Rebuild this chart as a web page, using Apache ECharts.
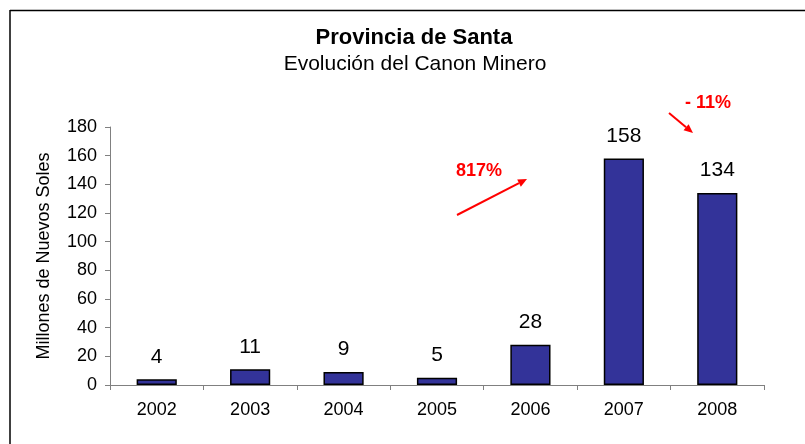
<!DOCTYPE html>
<html><head><meta charset="utf-8">
<script src="https://cdn.jsdelivr.net/npm/echarts@6/dist/echarts.min.js"></script>
<style>html,body{margin:0;padding:0;background:#fff}#c{width:805px;height:444px}</style>
</head><body><div id="c"></div>
<script>
const years = ['2002','2003','2004','2005','2006','2007','2008'];
const canon = [4, 11, 9, 5, 28, 158, 134];
const yTicks = [0, 20, 40, 60, 80, 100, 120, 140, 160, 180];
const titles = ['Provincia de Santa', 'Evolución del Canon Minero'];
const notes = ['817%', '- 11%'];

function arrow(x1, y1, x2, y2) {
  const a = Math.atan2(y2 - y1, x2 - x1), L = 9, W = 4;
  const bx = x2 - L * Math.cos(a), by = y2 - L * Math.sin(a);
  return [
    {type:'line', shape:{x1:x1, y1:y1, x2:bx, y2:by}, style:{stroke:'#ff0000', lineWidth:2}},
    {type:'polygon', shape:{points:[[x2,y2],[bx - W*Math.sin(a), by + W*Math.cos(a)],[bx + W*Math.sin(a), by - W*Math.cos(a)]]}, style:{fill:'#ff0000'}}
  ];
}

const FF = 'Liberation Sans, Arial';
const chart = echarts.init(document.getElementById('c'));
chart.setOption({
  animation: false,
  backgroundColor: '#fff',
  grid: {left: 110, right: 41, top: 127, bottom: 59},
  xAxis: {
    type: 'category', data: years,
    axisLine: {lineStyle:{color:'#808080', width:1}},
    axisTick: {show:true, length:5, lineStyle:{color:'#808080'}},
    axisLabel: {color:'#000', fontSize:18, fontFamily:FF, margin:16}
  },
  yAxis: {
    type: 'value', min: yTicks[0], max: yTicks[yTicks.length-1], interval: 20,
    name: 'Millones de Nuevos Soles', nameLocation: 'middle', nameGap: 57, nameRotate: 90,
    nameTextStyle: {color:'#000', fontSize:18, fontFamily:FF},
    axisLine: {show:true, lineStyle:{color:'#808080', width:1}},
    axisTick: {show:true, length:5, lineStyle:{color:'#808080'}},
    splitLine: {show:false},
    axisLabel: {color:'#000', fontSize:18, fontFamily:FF, margin:13}
  },
  series: [{
    type: 'bar', data: canon, barWidth: '43%',
    itemStyle: {color:'#333399', borderColor:'#000', borderWidth:1.5},
    label: {show:true, position:'top', distance:12, color:'#000', fontSize:21, fontFamily:FF}
  }],
  graphic: [
    {type:'line', shape:{x1:10, y1:10.5, x2:810, y2:10.5}, style:{stroke:'#000', lineWidth:1.5}},
    {type:'line', shape:{x1:10, y1:10, x2:10, y2:450}, style:{stroke:'#000', lineWidth:1.5}},
    {type:'text', x:414, y:38, style:{text:titles[0], fill:'#000', font:'bold 22px "Liberation Sans", Arial', align:'center', verticalAlign:'middle'}},
    {type:'text', x:415, y:64, style:{text:titles[1], fill:'#000', font:'21px "Liberation Sans", Arial', align:'center', verticalAlign:'middle'}},
    ...arrow(457, 215, 527, 179),
    ...arrow(669, 113, 693, 133),
    {type:'text', x:479, y:171, style:{text:notes[0], fill:'#ff0000', font:'bold 18px "Liberation Sans", Arial', align:'center', verticalAlign:'middle'}},
    {type:'text', x:708, y:103, style:{text:notes[1], fill:'#ff0000', font:'bold 18px "Liberation Sans", Arial', align:'center', verticalAlign:'middle'}}
  ]
});
</script></body></html>
